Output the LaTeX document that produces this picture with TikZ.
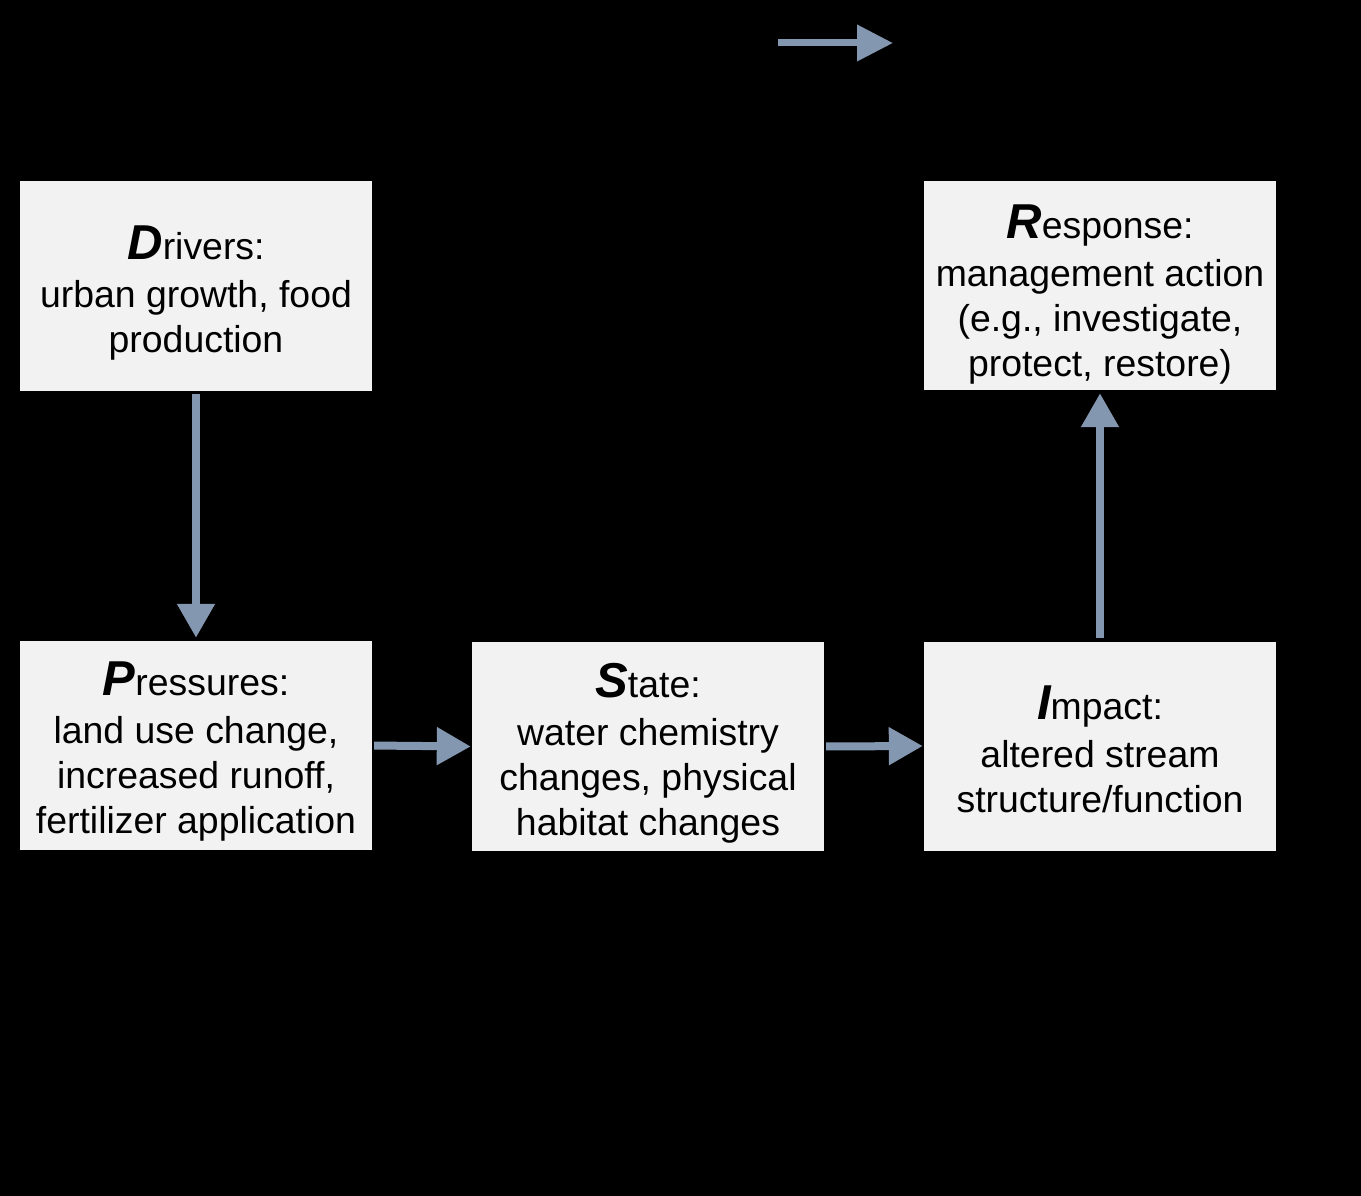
\documentclass[tikz,border=0pt]{standalone}
\usepackage{fontspec}
\setmainfont{Liberation Sans}
\usetikzlibrary{arrows.meta}
\definecolor{boxfill}{HTML}{F2F2F2}
\definecolor{arrowc}{HTML}{8497B0}
\newcommand\initl[1]{{\fontsize{49}{45}\selectfont\bfseries\itshape #1}}
\begin{document}
\begin{tikzpicture}[x=1pt,y=-1pt,
  box/.style={fill=boxfill, minimum width=352pt, minimum height=209pt, inner sep=0pt},
  txt/.style={inner sep=0pt, align=center, text=black, font=\fontsize{37.4}{45}\selectfont},
  flow/.style={draw=arrowc, line width=8pt, -{Triangle[length=34pt,width=36pt]}}
]
\fill[black] (0,0) rectangle (1361,1196);
\useasboundingbox (0,0) rectangle (1361,1196);

\node[box] (D) at (196,286) {};
\node[box] (R) at (1100,285.5) {};
\node[box] (P) at (196,745.5) {};
\node[box] (S) at (648,746.5) {};
\node[box] (I) at (1100,746) {};

\node[txt] (Dt) at (196,293) {\initl{D}rivers:\\[3pt]urban growth, food\\production};
\node[txt] (Rt) at (1100,295) {\initl{R}esponse:\\[3pt]management action\\(e.g., investigate,\\protect, restore)};
\node[txt] (Pt) at (196,752) {\initl{P}ressures:\\[3pt]land use change,\\increased runoff,\\fertilizer application};
\node[txt] (St) at (648,753) {\initl{S}tate:\\[3pt]water chemistry\\changes, physical\\habitat changes};
\node[txt] (It) at (1100,749.5) {\initl{I}mpact:\\[3pt]altered stream\\structure/function};

\draw[flow, shorten <=3pt, shorten >=3pt] (D.south) -- (P.north);
\draw[flow, shorten <=2pt, shorten >=1pt] (P.east) -- (S.west);
\draw[flow, shorten <=2pt, shorten >=1pt] (S.east) -- (I.west);
\draw[flow, shorten <=3pt, shorten >=3pt] (I.north) -- (R.south);

\coordinate (ka) at (778,43);
\coordinate (kb) at (893,43);
\draw[draw=arrowc, line width=7pt, -{Triangle[length=36pt,width=35pt]}] (ka) -- (kb);
\end{tikzpicture}
\end{document}
